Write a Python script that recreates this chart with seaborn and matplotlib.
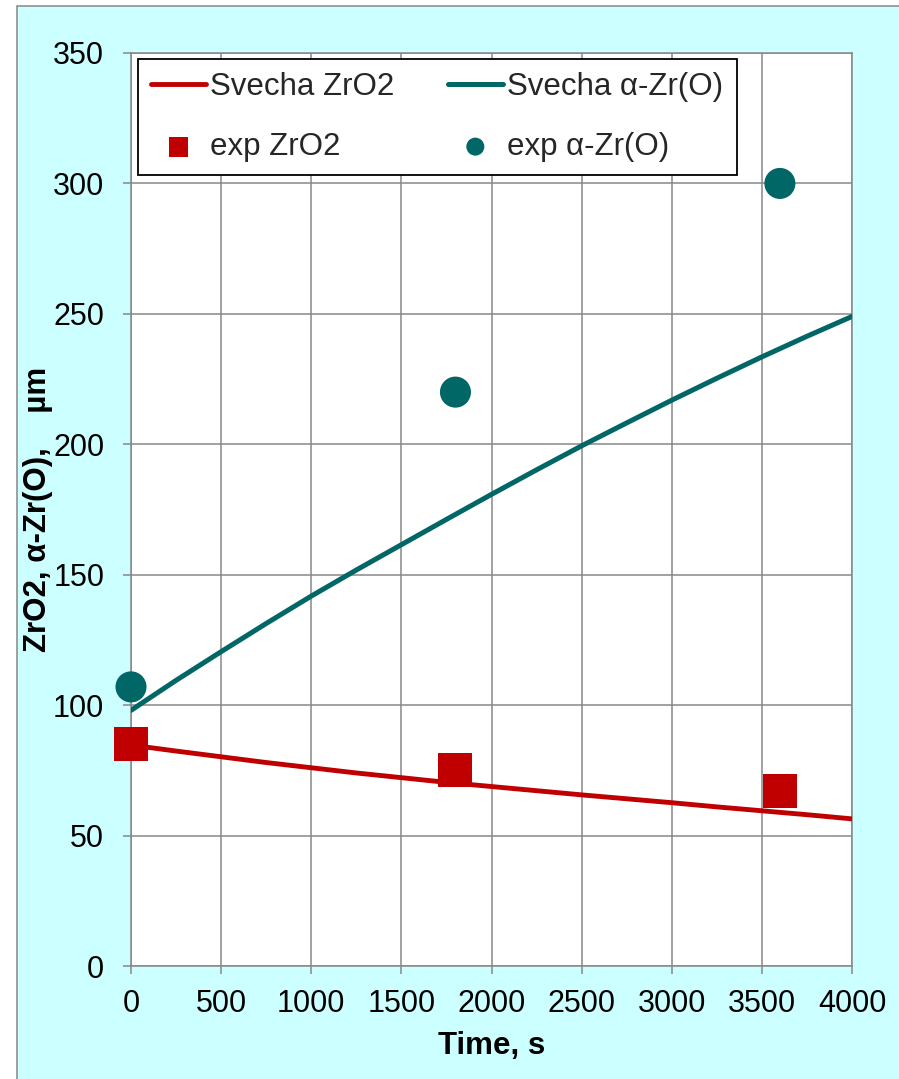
import matplotlib
matplotlib.use("Agg")
import matplotlib.pyplot as plt
from matplotlib.patches import Rectangle
import seaborn as sns
import pandas as pd

# Model curves (Svecha code)
time_model = [0, 250, 500, 750, 1000, 1250, 1500, 1750, 2000,
              2250, 2500, 2750, 3000, 3250, 3500, 3750, 4000]
zro2_model = [84.7, 82.4, 80.2, 78.0, 76.0, 74.0, 72.2, 70.4, 68.8,
              67.2, 65.6, 64.1, 62.6, 61.0, 59.5, 58.0, 56.4]
alpha_model = [98.0, 109.5, 120.5, 131.3, 141.8, 151.8, 161.5, 171.2, 180.8,
               190.2, 199.4, 208.2, 216.9, 225.3, 233.5, 241.4, 249.0]

# Experimental points
time_exp = [0, 1800, 3600]
zro2_exp = [85, 75, 67]
alpha_exp = [107, 220, 300]

x_ticks = [0, 500, 1000, 1500, 2000, 2500, 3000, 3500, 4000]
y_ticks = [0, 50, 100, 150, 200, 250, 300, 350]

RED = "#C00000"
TEAL = "#006666"
GRID = "#878787"
BG = "#CCFFFF"

sns.set_theme(style="whitegrid")
plt.rcParams["font.family"] = ["Liberation Sans", "DejaVu Sans"]

fig = plt.figure(figsize=(8.99, 10.79), dpi=100)
fig.patch.set_facecolor("white")
fig.add_artist(Rectangle((17 / 899, -0.01), 1.1, 1 - 6 / 1079 + 0.01,
                         transform=fig.transFigure, facecolor=BG,
                         edgecolor=GRID, linewidth=1.1, zorder=-10))

ax = fig.add_axes([131 / 899, 1 - 966 / 1079, 721 / 899, 913 / 1079])
ax.set_facecolor("white")

model = pd.DataFrame({"t": time_model, "zro2": zro2_model, "alpha": alpha_model})
exp = pd.DataFrame({"t": time_exp, "zro2": zro2_exp, "alpha": alpha_exp})

sns.lineplot(data=model, x="t", y="zro2", color=RED, linewidth=3.5,
             label="Svecha ZrO2", ax=ax, zorder=3)
sns.lineplot(data=model, x="t", y="alpha", color=TEAL, linewidth=3.6,
             label="Svecha α-Zr(O)", ax=ax, zorder=3)
sns.scatterplot(data=exp, x="t", y="zro2", marker="s", s=600, color=RED,
                edgecolor="none", linewidth=0, label="exp ZrO2", ax=ax,
                zorder=4, clip_on=False)
sns.scatterplot(data=exp, x="t", y="alpha", marker="o", s=500, color=TEAL,
                edgecolor="none", linewidth=0, label="exp α-Zr(O)", ax=ax,
                zorder=4, clip_on=False)

ax.set_xlim(0, 4000)
ax.set_ylim(0, 350)
ax.set_xticks(x_ticks)
ax.set_yticks(y_ticks)
ax.set_xticklabels([str(v) for v in x_ticks])
ax.set_yticklabels([str(v) for v in y_ticks])

ax.grid(True, color=GRID, linewidth=1.1)
for sp in ax.spines.values():
    sp.set_color(GRID)
    sp.set_linewidth(1.1)

ax.tick_params(axis="both", which="major", bottom=True, left=True,
               direction="out", length=5.8, width=1.1, color=GRID,
               labelsize=22, labelcolor="black")
ax.tick_params(axis="x", pad=10.5)
ax.tick_params(axis="y", pad=13.5)

ax.set_xlabel("Time, s", fontsize=22.5, fontweight="bold", color="black")
ax.set_ylabel("ZrO2, α-Zr(O),    µm", fontsize=22.5, fontweight="bold",
              color="black")
ax.xaxis.set_label_coords(0.5, -0.071)
ax.yaxis.set_label_coords(-0.108, 0.5)

handles, labels = ax.get_legend_handles_labels()
order = [0, 2, 1, 3]
leg = ax.legend([handles[i] for i in order], [labels[i] for i in order],
                ncol=2, loc="upper left", bbox_to_anchor=(0.0097, 0.9934),
                borderaxespad=0, fontsize=22.5, frameon=True, fancybox=False,
                framealpha=1, edgecolor="black", markerscale=0.58,
                handlelength=1.75, handletextpad=0.15, columnspacing=1.7,
                labelspacing=0.95, borderpad=0.42)
leg.get_frame().set_linewidth(1.3)

fig.savefig("out.png", dpi=100)
